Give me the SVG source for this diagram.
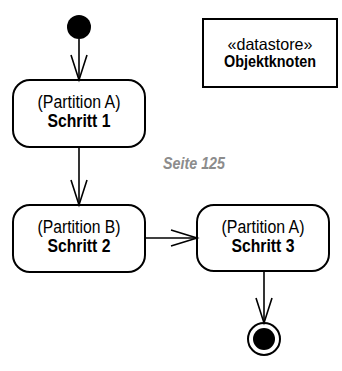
<svg xmlns="http://www.w3.org/2000/svg" width="342" height="371" viewBox="0 0 342 371">
<style>
.node{fill:#fff;stroke:#000;stroke-width:2}
.t{font-family:"Liberation Sans",Arial,sans-serif;font-size:17.5px;text-anchor:middle;fill:#000}
.b{font-family:"Liberation Sans",Arial,sans-serif;font-size:18px;font-weight:bold;text-anchor:middle;fill:#000}
.edge{fill:none;stroke:#000;stroke-width:1.6}
.note{font-family:"Liberation Sans",Arial,sans-serif;font-size:17px;font-weight:bold;font-style:italic;fill:#8c8c8c}
</style>
<g id="start"><circle cx="79" cy="27" r="12" fill="#000"/></g>
<g id="schritt1">
<rect class="node" x="13" y="80" width="132" height="67" rx="17" ry="17"/>
<text class="t" x="79" y="108" textLength="83" lengthAdjust="spacingAndGlyphs">(Partition A)</text>
<text class="b" x="79" y="127" textLength="63" lengthAdjust="spacingAndGlyphs">Schritt 1</text>
</g>
<g id="schritt2">
<rect class="node" x="13" y="205" width="132" height="67" rx="17" ry="17"/>
<text class="t" x="79" y="233" textLength="83" lengthAdjust="spacingAndGlyphs">(Partition B)</text>
<text class="b" x="79" y="252" textLength="63" lengthAdjust="spacingAndGlyphs">Schritt 2</text>
</g>
<g id="schritt3">
<rect class="node" x="197" y="205" width="132" height="66" rx="17" ry="17"/>
<text class="t" x="263" y="233" textLength="83" lengthAdjust="spacingAndGlyphs">(Partition A)</text>
<text class="b" x="263" y="252" textLength="63" lengthAdjust="spacingAndGlyphs">Schritt 3</text>
</g>
<g id="objektknoten">
<rect x="203" y="19" width="134" height="68" fill="#fff" stroke="#000" stroke-width="2"/>
<text class="t" x="270" y="50" style="font-size:16.5px" textLength="85" lengthAdjust="spacingAndGlyphs">«datastore»</text>
<text class="b" x="270" y="66.5" style="font-size:17px" textLength="92" lengthAdjust="spacingAndGlyphs">Objektknoten</text>
</g>
<g id="end">
<circle cx="264" cy="339" r="16" fill="#fff" stroke="#000" stroke-width="2"/>
<circle cx="264" cy="339" r="11" fill="#000"/>
</g>
<g id="connectors">
<line class="edge" x1="79" y1="39" x2="79" y2="80"/>
<polyline class="edge" points="71,55 79,80 87,55"/>
<line class="edge" x1="79" y1="147" x2="79" y2="205"/>
<polyline class="edge" points="71,180 79,205 87,180"/>
<line class="edge" x1="145" y1="238" x2="197" y2="238"/>
<polyline class="edge" points="171,230 197,238 171,246"/>
<line class="edge" x1="264" y1="271" x2="264" y2="323"/>
<polyline class="edge" points="256,298 264,323 272,298"/>
</g>
<text class="note" x="163" y="169" textLength="62" lengthAdjust="spacingAndGlyphs">Seite 125</text>
</svg>
